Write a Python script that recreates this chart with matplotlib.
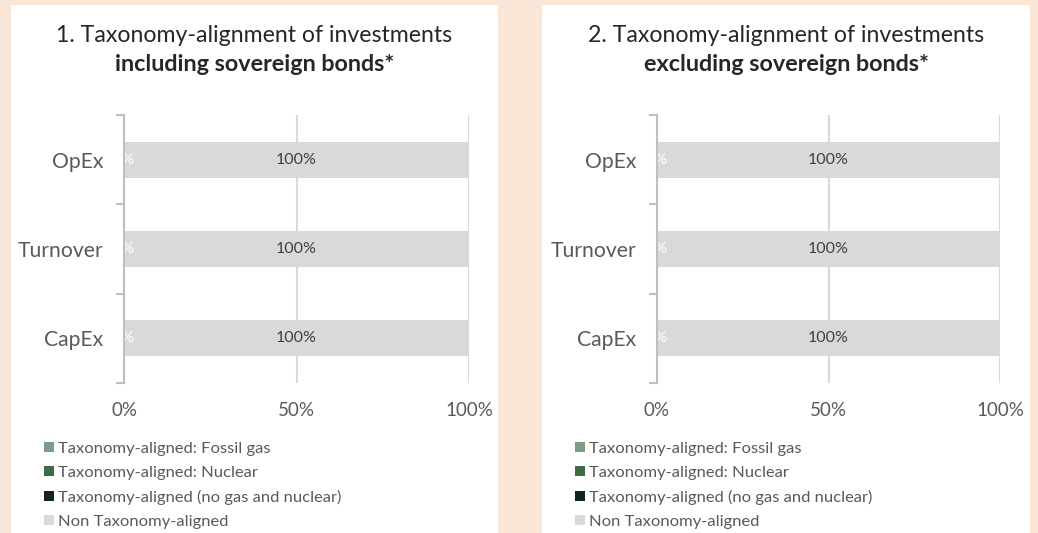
import matplotlib.pyplot as plt
from matplotlib.patches import Rectangle
import numpy as np

plt.rcParams['font.family'] = ['Lato', 'DejaVu Sans']

# data (percent of investments)
categories = ['CapEx', 'Turnover', 'OpEx']
series_names = ['Taxonomy-aligned: Fossil gas',
                'Taxonomy-aligned: Nuclear',
                'Taxonomy-aligned (no gas and nuclear)',
                'Non Taxonomy-aligned']
colors = ['#7f9d85', '#3f6b47', '#11261a', '#d9d9d9']

incl_gas = [0, 0, 0]
incl_nuclear = [0, 0, 0]
incl_aligned = [0, 0, 0]
incl_non = [100, 100, 100]

excl_gas = [0, 0, 0]
excl_nuclear = [0, 0, 0]
excl_aligned = [0, 0, 0]
excl_non = [100, 100, 100]

panels = [
    ('1. Taxonomy-alignment of investments', 'including sovereign bonds*',
     [incl_gas, incl_nuclear, incl_aligned, incl_non]),
    ('2. Taxonomy-alignment of investments', 'excluding sovereign bonds*',
     [excl_gas, excl_nuclear, excl_aligned, excl_non]),
]

W, H = 1038, 533
fig = plt.figure(figsize=(W / 100, H / 100), dpi=100)
fig.patch.set_facecolor('#f9e6d6')

# white panel boxes and axes placement (pixels)
boxes = [(11, 498), (542, 1030)]
axes_x = [(124, 469), (657, 1000)]
ax_top, ax_bot = 115, 383

y = np.arange(len(categories))
for (title1, title2, vals), (bx0, bx1), (ax0, ax1) in zip(panels, boxes, axes_x):
    fig.patches.append(Rectangle((bx0 / W, 0), (bx1 - bx0) / W, 1 - 5 / H,
                                 transform=fig.transFigure, facecolor='white',
                                 edgecolor='none', zorder=-5))
    cx = (bx0 + bx1) / 2 / W
    fig.text(cx, 1 - 35 / H, title1, ha='center', va='center',
             fontsize=16.7, color='#262626')
    fig.text(cx, 1 - 64 / H, title2, ha='center', va='center',
             fontsize=16.8, fontweight='bold', color='#262626')

    ax = fig.add_axes([ax0 / W, 1 - ax_bot / H, (ax1 - ax0) / W, (ax_bot - ax_top) / H])
    ax.set_facecolor('none')
    left = np.zeros(len(categories))
    bars = []
    for name, col, v in zip(series_names, colors, vals):
        b = ax.barh(y, v, left=left, height=0.4, color=col, label=name, zorder=2)
        bars.append(b)
        left = left + np.array(v)
    ax.bar_label(bars[2], labels=[f'{v}%' for v in vals[2]], label_type='center',
                 color='white', fontsize=11.5, zorder=3)
    ax.bar_label(bars[3], labels=[f'{v}%' for v in vals[3]], label_type='center',
                 color='#404040', fontsize=11.5, zorder=3)

    ax.set_xlim(0, 100)
    ax.set_ylim(-0.5, len(categories) - 0.5)
    ax.set_xticks([0, 50, 100])
    ax.set_xticklabels(['0%', '50%', '100%'])
    ax.set_yticks(y)
    ax.set_yticklabels(categories)
    ax.set_yticks(np.arange(-0.5, len(categories)), minor=True)
    ax.grid(axis='x', color='#d9d9d9', linewidth=1.5, zorder=1)
    for s in ['top', 'right', 'bottom']:
        ax.spines[s].set_visible(False)
    ax.spines['left'].set_color('#bfbfbf')
    ax.spines['left'].set_linewidth(1.5)
    ax.spines['left'].set_zorder(4)
    ax.tick_params(axis='x', length=0, pad=14, labelsize=13.5, labelcolor='#595959')
    ax.tick_params(axis='y', which='major', length=0, pad=15, labelsize=15.2,
                   labelcolor='#595959')
    ax.tick_params(axis='y', which='minor', length=6, width=1.5, color='#bfbfbf')

    ax.legend(handles=bars, loc='upper left',
              bbox_to_anchor=((bx0 + 33) / W, 1 - 442 / H),
              bbox_transform=fig.transFigure, frameon=False, fontsize=11.85,
              labelcolor='#595959', handlelength=0.6, handleheight=0.6,
              handletextpad=0.25, labelspacing=0.6, borderpad=0, borderaxespad=0)

fig.savefig('out.png', dpi=100, facecolor=fig.get_facecolor())
